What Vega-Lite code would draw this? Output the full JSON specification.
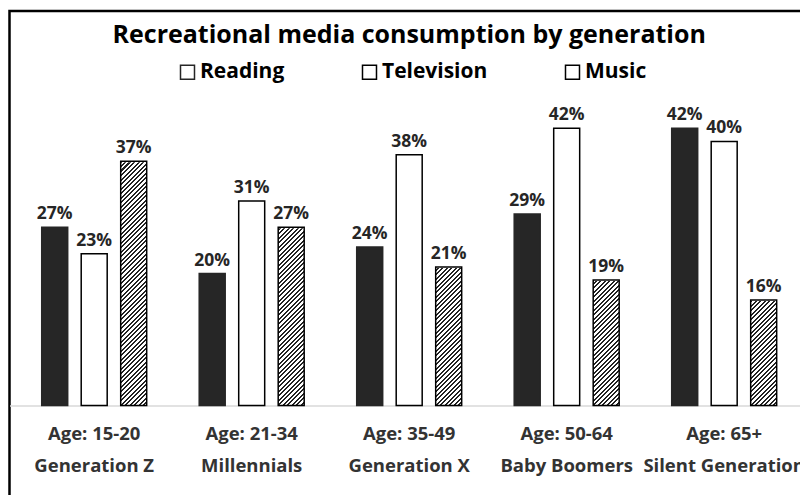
{
"$schema": "https://vega.github.io/schema/vega-lite/v6.json",
"width": 799.4,
"height": 499,
"autosize": "none",
"padding": {"left": 9.5, "top": 11, "right": 0, "bottom": 0},
"background": "white",
"config": {"view": {"stroke": "#000", "strokeWidth": 2.5}, "font": "Open Sans"},
"title": {"text": "Recreational media consumption by generation", "font": "Open Sans", "fontSize": 25, "fontWeight": "bold", "color": "#000", "anchor": "middle", "frame": "group", "baseline": "alphabetic", "offset": -57},
"data": {"values": [
{"generation": "Generation Z", "media": "Reading", "value": 0.27},
{"generation": "Generation Z", "media": "Television", "value": 0.23},
{"generation": "Generation Z", "media": "Music", "value": 0.37},
{"generation": "Millennials", "media": "Reading", "value": 0.20},
{"generation": "Millennials", "media": "Television", "value": 0.31},
{"generation": "Millennials", "media": "Music", "value": 0.27},
{"generation": "Generation X", "media": "Reading", "value": 0.24},
{"generation": "Generation X", "media": "Television", "value": 0.38},
{"generation": "Generation X", "media": "Music", "value": 0.21},
{"generation": "Baby Boomers", "media": "Reading", "value": 0.29},
{"generation": "Baby Boomers", "media": "Television", "value": 0.42},
{"generation": "Baby Boomers", "media": "Music", "value": 0.19},
{"generation": "Silent Generation", "media": "Reading", "value": 0.42},
{"generation": "Silent Generation", "media": "Television", "value": 0.40},
{"generation": "Silent Generation", "media": "Music", "value": 0.16}
]},
"transform": [{"joinaggregate": [{"op": "max", "field": "value", "as": "vmax"}], "groupby": ["media"]}],
"encoding": {
"x": {"field": "generation", "type": "nominal", "sort": ["Generation Z", "Millennials", "Generation X", "Baby Boomers", "Silent Generation"], "scale": {"paddingInner": 0, "paddingOuter": 0.0378},
 "axis": {"title": null, "orient": "bottom", "offset": -104.5, "ticks": false, "tickSize": 0, "grid": false, "domainColor": "#d9d9d9", "domainWidth": 1.5, "labelFont": "Open Sans", "labelFontSize": 18.5, "labelFontWeight": "bold", "labelColor": "#333333", "labelPadding": 34.5, "labelBaseline": "alphabetic", "labelLineHeight": 32, "labelAngle": 0, "labelAlign": "center", "labelLimit": 300, "labelOverlap": false,
 "labelExpr": "[{'Generation Z': 'Age: 15-20', 'Millennials': 'Age: 21-34', 'Generation X': 'Age: 35-49', 'Baby Boomers': 'Age: 50-64', 'Silent Generation': 'Age: 65+'}[datum.value], datum.value]"}},
"xOffset": {"field": "media", "type": "nominal", "sort": ["Reading", "Television", "Music"], "scale": {"domain": ["Reading", "Television", "Music"], "paddingInner": 0.342, "paddingOuter": 0.665}}
},
"layer": [
{"transform": [{"filter": "datum.media === 'Music'"}],
 "mark": {"type": "bar", "strokeWidth": 0, "fill": {"gradient": "linear", "x1": 0, "y1": 0, "x2": 0.1165, "y2": 1.0941, "stops": [
{"offset":0,"color":"#222"},{"offset":0.0075,"color":"#222"},{"offset":0.0075,"color":"#fff"},{"offset":0.0167,"color":"#fff"},
{"offset":0.0167,"color":"#222"},{"offset":0.0242,"color":"#222"},{"offset":0.0242,"color":"#fff"},{"offset":0.0333,"color":"#fff"},
{"offset":0.0333,"color":"#222"},{"offset":0.0408,"color":"#222"},{"offset":0.0408,"color":"#fff"},{"offset":0.05,"color":"#fff"},
{"offset":0.05,"color":"#222"},{"offset":0.0575,"color":"#222"},{"offset":0.0575,"color":"#fff"},{"offset":0.0667,"color":"#fff"},
{"offset":0.0667,"color":"#222"},{"offset":0.0742,"color":"#222"},{"offset":0.0742,"color":"#fff"},{"offset":0.0833,"color":"#fff"},
{"offset":0.0833,"color":"#222"},{"offset":0.0908,"color":"#222"},{"offset":0.0908,"color":"#fff"},{"offset":0.1,"color":"#fff"},
{"offset":0.1,"color":"#222"},{"offset":0.1075,"color":"#222"},{"offset":0.1075,"color":"#fff"},{"offset":0.1167,"color":"#fff"},
{"offset":0.1167,"color":"#222"},{"offset":0.1242,"color":"#222"},{"offset":0.1242,"color":"#fff"},{"offset":0.1333,"color":"#fff"},
{"offset":0.1333,"color":"#222"},{"offset":0.1408,"color":"#222"},{"offset":0.1408,"color":"#fff"},{"offset":0.15,"color":"#fff"},
{"offset":0.15,"color":"#222"},{"offset":0.1575,"color":"#222"},{"offset":0.1575,"color":"#fff"},{"offset":0.1667,"color":"#fff"},
{"offset":0.1667,"color":"#222"},{"offset":0.1742,"color":"#222"},{"offset":0.1742,"color":"#fff"},{"offset":0.1833,"color":"#fff"},
{"offset":0.1833,"color":"#222"},{"offset":0.1908,"color":"#222"},{"offset":0.1908,"color":"#fff"},{"offset":0.2,"color":"#fff"},
{"offset":0.2,"color":"#222"},{"offset":0.2075,"color":"#222"},{"offset":0.2075,"color":"#fff"},{"offset":0.2167,"color":"#fff"},
{"offset":0.2167,"color":"#222"},{"offset":0.2242,"color":"#222"},{"offset":0.2242,"color":"#fff"},{"offset":0.2333,"color":"#fff"},
{"offset":0.2333,"color":"#222"},{"offset":0.2408,"color":"#222"},{"offset":0.2408,"color":"#fff"},{"offset":0.25,"color":"#fff"},
{"offset":0.25,"color":"#222"},{"offset":0.2575,"color":"#222"},{"offset":0.2575,"color":"#fff"},{"offset":0.2667,"color":"#fff"},
{"offset":0.2667,"color":"#222"},{"offset":0.2742,"color":"#222"},{"offset":0.2742,"color":"#fff"},{"offset":0.2833,"color":"#fff"},
{"offset":0.2833,"color":"#222"},{"offset":0.2908,"color":"#222"},{"offset":0.2908,"color":"#fff"},{"offset":0.3,"color":"#fff"},
{"offset":0.3,"color":"#222"},{"offset":0.3075,"color":"#222"},{"offset":0.3075,"color":"#fff"},{"offset":0.3167,"color":"#fff"},
{"offset":0.3167,"color":"#222"},{"offset":0.3242,"color":"#222"},{"offset":0.3242,"color":"#fff"},{"offset":0.3333,"color":"#fff"},
{"offset":0.3333,"color":"#222"},{"offset":0.3408,"color":"#222"},{"offset":0.3408,"color":"#fff"},{"offset":0.35,"color":"#fff"},
{"offset":0.35,"color":"#222"},{"offset":0.3575,"color":"#222"},{"offset":0.3575,"color":"#fff"},{"offset":0.3667,"color":"#fff"},
{"offset":0.3667,"color":"#222"},{"offset":0.3742,"color":"#222"},{"offset":0.3742,"color":"#fff"},{"offset":0.3833,"color":"#fff"},
{"offset":0.3833,"color":"#222"},{"offset":0.3908,"color":"#222"},{"offset":0.3908,"color":"#fff"},{"offset":0.4,"color":"#fff"},
{"offset":0.4,"color":"#222"},{"offset":0.4075,"color":"#222"},{"offset":0.4075,"color":"#fff"},{"offset":0.4167,"color":"#fff"},
{"offset":0.4167,"color":"#222"},{"offset":0.4242,"color":"#222"},{"offset":0.4242,"color":"#fff"},{"offset":0.4333,"color":"#fff"},
{"offset":0.4333,"color":"#222"},{"offset":0.4408,"color":"#222"},{"offset":0.4408,"color":"#fff"},{"offset":0.45,"color":"#fff"},
{"offset":0.45,"color":"#222"},{"offset":0.4575,"color":"#222"},{"offset":0.4575,"color":"#fff"},{"offset":0.4667,"color":"#fff"},
{"offset":0.4667,"color":"#222"},{"offset":0.4742,"color":"#222"},{"offset":0.4742,"color":"#fff"},{"offset":0.4833,"color":"#fff"},
{"offset":0.4833,"color":"#222"},{"offset":0.4908,"color":"#222"},{"offset":0.4908,"color":"#fff"},{"offset":0.5,"color":"#fff"},
{"offset":0.5,"color":"#222"},{"offset":0.5075,"color":"#222"},{"offset":0.5075,"color":"#fff"},{"offset":0.5167,"color":"#fff"},
{"offset":0.5167,"color":"#222"},{"offset":0.5242,"color":"#222"},{"offset":0.5242,"color":"#fff"},{"offset":0.5333,"color":"#fff"},
{"offset":0.5333,"color":"#222"},{"offset":0.5408,"color":"#222"},{"offset":0.5408,"color":"#fff"},{"offset":0.55,"color":"#fff"},
{"offset":0.55,"color":"#222"},{"offset":0.5575,"color":"#222"},{"offset":0.5575,"color":"#fff"},{"offset":0.5667,"color":"#fff"},
{"offset":0.5667,"color":"#222"},{"offset":0.5742,"color":"#222"},{"offset":0.5742,"color":"#fff"},{"offset":0.5833,"color":"#fff"},
{"offset":0.5833,"color":"#222"},{"offset":0.5908,"color":"#222"},{"offset":0.5908,"color":"#fff"},{"offset":0.6,"color":"#fff"},
{"offset":0.6,"color":"#222"},{"offset":0.6075,"color":"#222"},{"offset":0.6075,"color":"#fff"},{"offset":0.6167,"color":"#fff"},
{"offset":0.6167,"color":"#222"},{"offset":0.6242,"color":"#222"},{"offset":0.6242,"color":"#fff"},{"offset":0.6333,"color":"#fff"},
{"offset":0.6333,"color":"#222"},{"offset":0.6408,"color":"#222"},{"offset":0.6408,"color":"#fff"},{"offset":0.65,"color":"#fff"},
{"offset":0.65,"color":"#222"},{"offset":0.6575,"color":"#222"},{"offset":0.6575,"color":"#fff"},{"offset":0.6667,"color":"#fff"},
{"offset":0.6667,"color":"#222"},{"offset":0.6742,"color":"#222"},{"offset":0.6742,"color":"#fff"},{"offset":0.6833,"color":"#fff"},
{"offset":0.6833,"color":"#222"},{"offset":0.6908,"color":"#222"},{"offset":0.6908,"color":"#fff"},{"offset":0.7,"color":"#fff"},
{"offset":0.7,"color":"#222"},{"offset":0.7075,"color":"#222"},{"offset":0.7075,"color":"#fff"},{"offset":0.7167,"color":"#fff"},
{"offset":0.7167,"color":"#222"},{"offset":0.7242,"color":"#222"},{"offset":0.7242,"color":"#fff"},{"offset":0.7333,"color":"#fff"},
{"offset":0.7333,"color":"#222"},{"offset":0.7408,"color":"#222"},{"offset":0.7408,"color":"#fff"},{"offset":0.75,"color":"#fff"},
{"offset":0.75,"color":"#222"},{"offset":0.7575,"color":"#222"},{"offset":0.7575,"color":"#fff"},{"offset":0.7667,"color":"#fff"},
{"offset":0.7667,"color":"#222"},{"offset":0.7742,"color":"#222"},{"offset":0.7742,"color":"#fff"},{"offset":0.7833,"color":"#fff"},
{"offset":0.7833,"color":"#222"},{"offset":0.7908,"color":"#222"},{"offset":0.7908,"color":"#fff"},{"offset":0.8,"color":"#fff"},
{"offset":0.8,"color":"#222"},{"offset":0.8075,"color":"#222"},{"offset":0.8075,"color":"#fff"},{"offset":0.8167,"color":"#fff"},
{"offset":0.8167,"color":"#222"},{"offset":0.8242,"color":"#222"},{"offset":0.8242,"color":"#fff"},{"offset":0.8333,"color":"#fff"},
{"offset":0.8333,"color":"#222"},{"offset":0.8408,"color":"#222"},{"offset":0.8408,"color":"#fff"},{"offset":0.85,"color":"#fff"},
{"offset":0.85,"color":"#222"},{"offset":0.8575,"color":"#222"},{"offset":0.8575,"color":"#fff"},{"offset":0.8667,"color":"#fff"},
{"offset":0.8667,"color":"#222"},{"offset":0.8742,"color":"#222"},{"offset":0.8742,"color":"#fff"},{"offset":0.8833,"color":"#fff"},
{"offset":0.8833,"color":"#222"},{"offset":0.8908,"color":"#222"},{"offset":0.8908,"color":"#fff"},{"offset":0.9,"color":"#fff"},
{"offset":0.9,"color":"#222"},{"offset":0.9075,"color":"#222"},{"offset":0.9075,"color":"#fff"},{"offset":0.9167,"color":"#fff"},
{"offset":0.9167,"color":"#222"},{"offset":0.9242,"color":"#222"},{"offset":0.9242,"color":"#fff"},{"offset":0.9333,"color":"#fff"},
{"offset":0.9333,"color":"#222"},{"offset":0.9408,"color":"#222"},{"offset":0.9408,"color":"#fff"},{"offset":0.95,"color":"#fff"},
{"offset":0.95,"color":"#222"},{"offset":0.9575,"color":"#222"},{"offset":0.9575,"color":"#fff"},{"offset":0.9667,"color":"#fff"},
{"offset":0.9667,"color":"#222"},{"offset":0.9742,"color":"#222"},{"offset":0.9742,"color":"#fff"},{"offset":0.9833,"color":"#fff"},
{"offset":0.9833,"color":"#222"},{"offset":0.9908,"color":"#222"},{"offset":0.9908,"color":"#fff"},{"offset":1,"color":"#fff"}
]}},
 "encoding": {"y": {"field": "vmax", "type": "quantitative", "scale": {"domain": [-0.1583, 0.5977]}, "axis": null}}},
{"transform": [{"filter": "datum.media === 'Music'"}],
 "mark": {"type": "bar", "fill": "#ffffff", "stroke": "#ffffff", "strokeWidth": 2},
 "encoding": {"y": {"field": "value", "type": "quantitative", "scale": {"domain": [-0.1583, 0.5977]}, "axis": null}, "y2": {"datum": 0.375}}},
{"mark": {"type": "bar", "strokeWidth": 1.5},
 "encoding": {
  "y": {"field": "value", "type": "quantitative", "scale": {"domain": [-0.1583, 0.5977]}, "axis": null},
  "fill": {"condition": [{"test": "datum.media === 'Reading'", "value": "#262626"}, {"test": "datum.media === 'Television'", "value": "#ffffff"}], "value": "transparent"},
  "stroke": {"field": "media", "type": "nominal", "scale": {"domain": ["Reading", "Television", "Music"], "range": ["#262626", "#000000", "#000000"]},
   "legend": {"title": null, "orient": "none", "legendX": 167.5, "legendY": 50.5, "direction": "horizontal", "padding": 0, "symbolType": "square", "symbolSize": 196, "symbolStrokeWidth": 1.5, "labelFont": "Open Sans", "labelFontSize": 21, "labelFontWeight": "bold", "labelColor": "#000", "labelOffset": 2, "columnPadding": 74,
    "encode": {"symbols": {
     "fill": {"condition": [
     {"test": "datum.value === 'Music'", "value": {"gradient": "linear", "x1": 0, "y1": 0, "x2": 1, "y2": 1, "stops": [
      {"offset":0,"color":"#222"},{"offset":0.075,"color":"#222"},{"offset":0.075,"color":"#fff"},{"offset":0.1667,"color":"#fff"},
      {"offset":0.1667,"color":"#222"},{"offset":0.2417,"color":"#222"},{"offset":0.2417,"color":"#fff"},{"offset":0.3333,"color":"#fff"},
      {"offset":0.3333,"color":"#222"},{"offset":0.4083,"color":"#222"},{"offset":0.4083,"color":"#fff"},{"offset":0.5,"color":"#fff"},
      {"offset":0.5,"color":"#222"},{"offset":0.575,"color":"#222"},{"offset":0.575,"color":"#fff"},{"offset":0.6667,"color":"#fff"},
      {"offset":0.6667,"color":"#222"},{"offset":0.7417,"color":"#222"},{"offset":0.7417,"color":"#fff"},{"offset":0.8333,"color":"#fff"},
      {"offset":0.8333,"color":"#222"},{"offset":0.9083,"color":"#222"},{"offset":0.9083,"color":"#fff"},{"offset":1,"color":"#fff"}]}},
     {"test": "datum.value === 'Reading'", "value": "#262626"}],
     "value": "#ffffff"}}}}
 }}},
{"mark": {"type": "text", "dy": -8, "baseline": "alphabetic", "align": "center", "font": "Open Sans", "fontSize": 17.5, "fontWeight": "bold", "fill": "#262626"},
 "encoding": {
  "y": {"field": "value", "type": "quantitative", "scale": {"domain": [-0.1583, 0.5977]}, "axis": null},
  "text": {"field": "value", "type": "quantitative", "format": ".0%"}}}
]
}
